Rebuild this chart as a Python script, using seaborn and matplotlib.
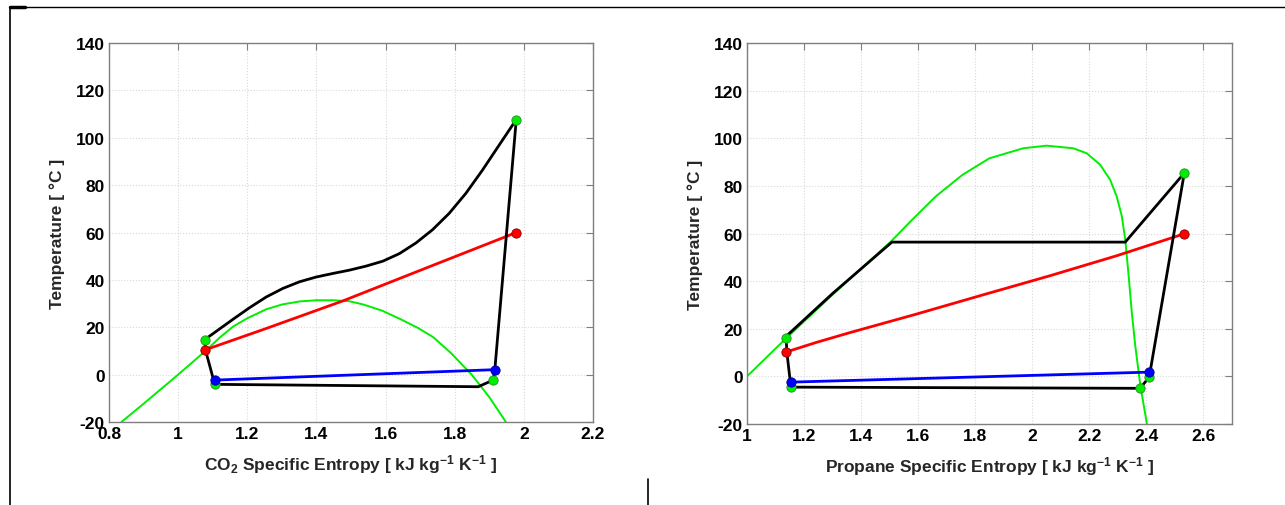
import numpy as np
import pandas as pd
import matplotlib
matplotlib.use("Agg")
import matplotlib.pyplot as plt
from matplotlib.lines import Line2D
import seaborn as sns

# ---------------- CO2 data ----------------
co2_dome_s = [0.836, 0.90, 1.00, 1.079, 1.12, 1.159, 1.20, 1.255, 1.30, 1.351, 1.40, 1.45, 1.495, 1.536,
              1.590, 1.642, 1.695, 1.738, 1.790, 1.849, 1.900, 1.948]
co2_dome_T = [-20.0, -12.3, 0.0, 10.0, 15.6, 20.3, 23.8, 27.6, 29.6, 30.9, 31.4, 31.4, 31.0, 29.6,
              27.0, 23.5, 19.6, 15.8, 9.0, 0.0, -9.5, -20.0]

co2_cycle_s = [1.077, 1.120, 1.159, 1.207, 1.255, 1.303, 1.351, 1.399, 1.447, 1.495, 1.543, 1.592, 1.640,
               1.688, 1.736, 1.784, 1.832, 1.880, 1.928, 1.978,
               1.916, 1.911, 1.868, 1.106, 1.079, 1.077]
co2_cycle_T = [14.8, 19.3, 23.4, 28.3, 32.8, 36.4, 39.2, 41.2, 42.7, 44.1, 45.8, 47.9, 51.1,
               55.6, 61.2, 68.1, 76.5, 86.3, 96.8, 107.7,
               2.1, -2.3, -5.1, -4.1, 10.4, 14.8]

co2_red_s = [1.077, 1.255, 1.476, 1.736, 1.978]
co2_red_T = [10.4, 19.5, 31.1, 46.1, 60.0]
co2_blue_s = [1.106, 1.916]
co2_blue_T = [-2.3, 2.1]

co2_green_pts_s = [1.077, 1.978, 1.911, 1.106]
co2_green_pts_T = [14.8, 107.7, -2.3, -4.1]
co2_red_pts_s = [1.077, 1.978]
co2_red_pts_T = [10.4, 60.0]
co2_blue_pts_s = [1.106, 1.916]
co2_blue_pts_T = [-2.3, 2.1]

# ---------------- Propane data ----------------
pr_dome_s = [1.000, 1.137, 1.300, 1.506, 1.580, 1.662, 1.756, 1.850, 1.968, 2.050, 2.144, 2.191, 2.238,
             2.273, 2.296, 2.314, 2.326, 2.338, 2.349, 2.361, 2.379, 2.402]
pr_dome_T = [0.0, 16.0, 34.3, 56.8, 65.9, 75.6, 84.7, 91.6, 95.8, 96.9, 95.8, 93.7, 88.9,
             82.6, 75.6, 67.3, 57.5, 42.2, 26.9, 13.0, -3.8, -20.0]

pr_cycle_s = [1.137, 1.300, 1.508, 2.326, 2.533, 2.413, 2.410, 2.378, 1.154, 1.140, 1.137]
pr_cycle_T = [16.8, 34.8, 56.4, 56.4, 85.4, 1.8, -0.3, -5.0, -4.5, 10.0, 16.8]

pr_red_s = [1.136, 1.241, 1.358, 1.592, 1.826, 2.060, 2.294, 2.533]
pr_red_T = [10.2, 14.2, 18.3, 26.1, 34.2, 42.2, 50.6, 59.9]
pr_blue_s = [1.154, 2.410]
pr_blue_T = [-2.4, 1.8]

pr_green_pts_s = [1.137, 2.533, 2.410, 2.378, 1.154]
pr_green_pts_T = [16.2, 85.4, -0.3, -5.0, -4.5]
pr_red_pts_s = [1.136, 2.533]
pr_red_pts_T = [10.2, 59.9]
pr_blue_pts_s = [1.154, 2.410]
pr_blue_pts_T = [-2.4, 1.8]

sns.set_theme(style="white")
plt.rcParams['font.family'] = ['Liberation Sans', 'DejaVu Sans']
plt.rcParams['font.weight'] = 'bold'
plt.rcParams['axes.unicode_minus'] = False
plt.rcParams['mathtext.fontset'] = 'custom'
plt.rcParams['mathtext.rm'] = 'Liberation Sans:bold'
plt.rcParams['mathtext.bf'] = 'Liberation Sans:bold'
plt.rcParams['mathtext.it'] = 'Liberation Sans:bold'
plt.rcParams['mathtext.default'] = 'bf'

fig = plt.figure(figsize=(12.85, 5.06), dpi=100)
ax1 = fig.add_axes([0.0848, 0.164, 0.3767, 0.749])
ax2 = fig.add_axes([0.5813, 0.160, 0.3774, 0.753])

GREEN = '#00ee00'


def line(ax, s, T, color, lw):
    df = pd.DataFrame({'s': s, 'T': T})
    sns.lineplot(data=df, x='s', y='T', sort=False, estimator=None, color=color, lw=lw, ax=ax)


def pts(ax, s, T, color, edge):
    df = pd.DataFrame({'s': s, 'T': T})
    sns.scatterplot(data=df, x='s', y='T', color=color, s=45, edgecolor=edge, linewidth=0.6, ax=ax, zorder=5)


def style(ax, xlim, xticks, xlabels, xlabel):
    ax.set_xlim(*xlim)
    ax.set_ylim(-20, 140)
    ax.set_xticks(xticks)
    ax.set_xticklabels(xlabels)
    ax.set_yticks(range(-20, 141, 20))
    ax.set_yticklabels([str(v) for v in range(-20, 141, 20)])
    ax.grid(True, color='#d9d9d9', linestyle=':', linewidth=0.8)
    ax.set_axisbelow(True)
    for sp in ax.spines.values():
        sp.set_color('#7f7f7f')
        sp.set_linewidth(1.0)
    ax.tick_params(direction='in', length=5, width=0.8, color='#7f7f7f', top=True, right=True,
                   labelsize=12.5, labelcolor='black', pad=3)
    for lab in ax.get_xticklabels() + ax.get_yticklabels():
        lab.set_fontweight('bold')
    ax.set_xlabel(xlabel, fontsize=12.5, fontweight='bold', labelpad=8)
    ax.set_ylabel('Temperature [ °C ]', fontsize=12.5, fontweight='bold', labelpad=8)


# CO2 panel
line(ax1, co2_dome_s, co2_dome_T, GREEN, 1.4)
line(ax1, co2_red_s, co2_red_T, '#ff0000', 2.0)
line(ax1, co2_blue_s, co2_blue_T, '#0000ff', 2.0)
line(ax1, co2_cycle_s, co2_cycle_T, 'black', 2.0)
pts(ax1, co2_green_pts_s, co2_green_pts_T, GREEN, '#2a8a2a')
pts(ax1, co2_red_pts_s, co2_red_pts_T, '#ff0000', '#8a0000')
pts(ax1, co2_blue_pts_s, co2_blue_pts_T, '#0000ff', '#00008a')
style(ax1, (0.8, 2.2), [0.8, 1.0, 1.2, 1.4, 1.6, 1.8, 2.0, 2.2],
      ['0.8', '1', '1.2', '1.4', '1.6', '1.8', '2', '2.2'],
      r'CO$_2$ Specific Entropy [ kJ kg$^{\mathbf{-1}}$ K$^{\mathbf{-1}}$ ]')

# Propane panel
line(ax2, pr_dome_s, pr_dome_T, GREEN, 1.4)
line(ax2, pr_red_s, pr_red_T, '#ff0000', 2.0)
line(ax2, pr_blue_s, pr_blue_T, '#0000ff', 2.0)
line(ax2, pr_cycle_s, pr_cycle_T, 'black', 2.0)
pts(ax2, pr_green_pts_s, pr_green_pts_T, GREEN, '#2a8a2a')
pts(ax2, pr_red_pts_s, pr_red_pts_T, '#ff0000', '#8a0000')
pts(ax2, pr_blue_pts_s, pr_blue_pts_T, '#0000ff', '#00008a')
style(ax2, (1.0, 2.7), [1.0, 1.2, 1.4, 1.6, 1.8, 2.0, 2.2, 2.4, 2.6],
      ['1', '1.2', '1.4', '1.6', '1.8', '2', '2.2', '2.4', '2.6'],
      r'Propane Specific Entropy [ kJ kg$^{\mathbf{-1}}$ K$^{\mathbf{-1}}$ ]')

# page frame lines
W, H = 1285.0, 506.0
fig.add_artist(Line2D([10 / W, 1.0], [1 - 8 / H, 1 - 8 / H], color='black', lw=1.0))
fig.add_artist(Line2D([10 / W, 10 / W], [1 - 8 / H, 0.0], color='black', lw=1.2))
fig.add_artist(Line2D([10 / W, 25 / W], [1 - 8 / H, 1 - 8 / H], color='black', lw=2.5))
fig.add_artist(Line2D([648 / W, 648 / W], [1 - 480 / H, 0.0], color='black', lw=1.2))

fig.savefig('out.png', dpi=100)
